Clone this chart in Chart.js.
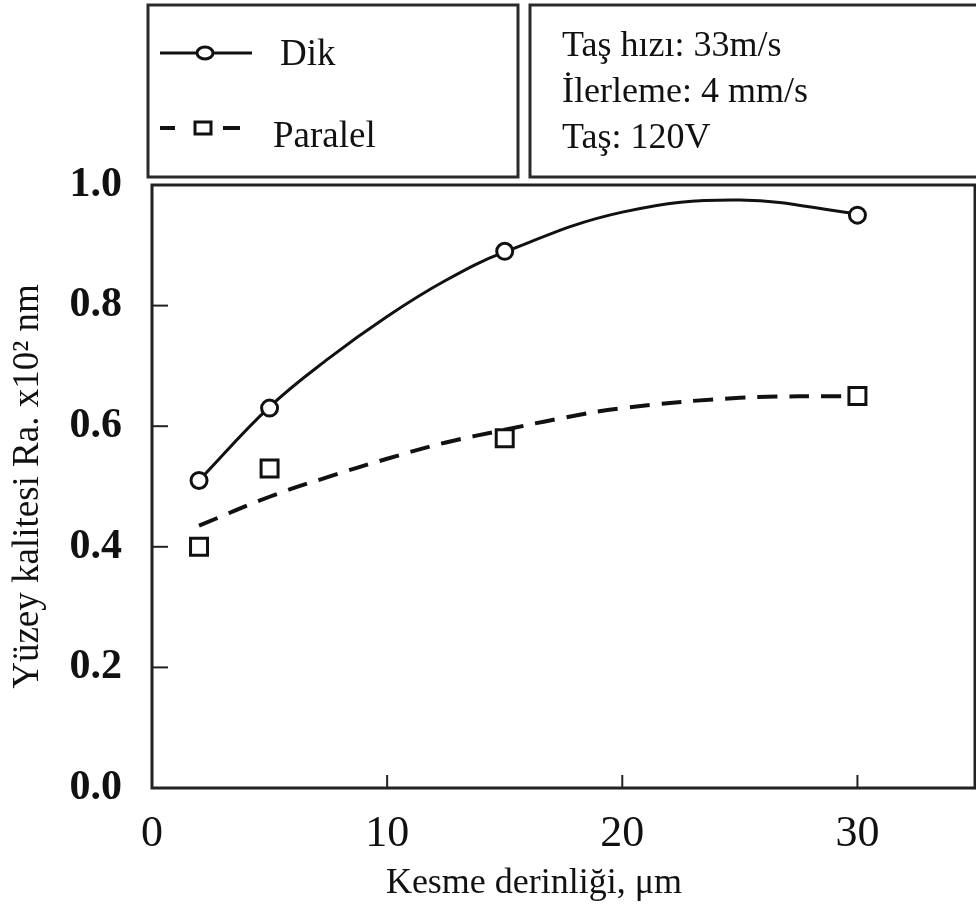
<!DOCTYPE html>
<html>
<head>
<meta charset="utf-8">
<script src="https://cdn.jsdelivr.net/npm/chart.js@4"></script>
<style>
  body { margin: 0; background: #fff; }
  canvas { display: block; }
</style>
</head>
<body>
<canvas id="chart1" width="976" height="906"></canvas>
<script>
const ctx = document.getElementById('chart1');

// measured points
const depth = [2, 5, 15, 30];
const dikValues = [0.51, 0.63, 0.89, 0.95];
const paralelValues = [0.40, 0.53, 0.58, 0.65];

// fitted curves
const dikCurveX = [2, 5, 7.5, 10, 12.5, 15, 20, 25, 30];
const dikCurveY = [0.51, 0.632, 0.712, 0.782, 0.842, 0.889, 0.955, 0.975, 0.952];
const paralelCurveX = [2, 5, 7.5, 10, 12.5, 15, 17.5, 20, 25, 30];
const paralelCurveY = [0.435, 0.483, 0.516, 0.546, 0.573, 0.594, 0.614, 0.630, 0.647, 0.650];

const seriesNames = ['Dik', 'Paralel'];
const infoLines = ['Taş hızı: 33m/s', 'İlerleme: 4 mm/s', 'Taş: 120V'];
const xTitle = 'Kesme derinliği, μm';
const yTitle = 'Yüzey kalitesi Ra. x10² nm';

const serif = "'Liberation Serif', 'DejaVu Serif', serif";
const ink = '#111';

const toPoints = (xs, ys) => xs.map((x, i) => ({x: x, y: ys[i]}));

const curveDataset = (data, dash) => ({
  data: data,
  showLine: true,
  borderColor: ink,
  borderWidth: dash ? 4 : 3,
  borderDash: dash ? [20, 12] : [],
  pointRadius: 0,
  tension: 0.4,
  order: 2
})

const markerDataset = (label, data, style) => ({
  label: label,
  data: data,
  showLine: false,
  pointStyle: style,
  pointRadius: style == 'rect' ? 12 : 8,
  pointBorderWidth: 3,
  pointBorderColor: ink,
  pointBackgroundColor: '#fff',
  order: 1
})

// boxes above the chart, inner tick marks and the frame
const decorations = {
  id: 'decorations',
  afterDraw(chart) {
    const c = chart.ctx;
    const a = chart.chartArea;
    const xs = chart.scales.x;
    const ys = chart.scales.y;
    c.save();

    // frame
    c.strokeStyle = '#222';
    c.lineWidth = 3;
    c.strokeRect(a.left, a.top, a.right - a.left, a.bottom - a.top);

    // inward ticks
    c.lineWidth = 2;
    xs.ticks.forEach(t => {
      if (t.value <= xs.min) return;
      const px = xs.getPixelForValue(t.value);
      c.beginPath(); c.moveTo(px, a.bottom); c.lineTo(px, a.bottom - 13); c.stroke();
    });
    ys.ticks.forEach(t => {
      if (t.value <= ys.min || t.value >= ys.max) return;
      const py = ys.getPixelForValue(t.value);
      c.beginPath(); c.moveTo(a.left, py); c.lineTo(a.left + 16, py); c.stroke();
    });

    // legend box
    c.lineWidth = 3;
    c.strokeStyle = '#2a2a2a';
    c.strokeRect(148, 5, 370, 172);
    c.strokeRect(530, 5, 460, 172);

    c.fillStyle = ink;
    c.font = '37px ' + serif;
    c.textBaseline = 'alphabetic';
    c.textAlign = 'left';
    c.fillText(seriesNames[0], 280, 65);
    c.fillText(seriesNames[1], 273, 147);

    c.strokeStyle = ink;
    c.lineWidth = 3;
    c.beginPath(); c.moveTo(160, 53); c.lineTo(252, 53); c.stroke();
    c.beginPath(); c.ellipse(205, 53, 8, 6, 0, 0, Math.PI * 2);
    c.fillStyle = '#fff'; c.fill(); c.stroke();

    c.lineWidth = 4;
    c.beginPath(); c.moveTo(160, 128); c.lineTo(175, 128); c.stroke();
    c.beginPath(); c.moveTo(223, 128); c.lineTo(240, 128); c.stroke();
    c.lineWidth = 3;
    c.fillStyle = '#fff';
    c.fillRect(195, 122, 16, 12);
    c.strokeRect(195, 122, 16, 12);

    // info box
    c.fillStyle = ink;
    c.font = '36px ' + serif;
    infoLines.forEach((line, i) => c.fillText(line, 562, 56 + i * 46));

    // x title
    c.textAlign = 'center';
    c.textBaseline = 'middle';
    c.fillText(xTitle, 534, 884);

    c.restore();
  }
}

const config = {
  type: 'scatter',
  data: {
    datasets: [
      curveDataset(toPoints(dikCurveX, dikCurveY), false),
      curveDataset(toPoints(paralelCurveX, paralelCurveY), true),
      markerDataset(seriesNames[0], toPoints(depth, dikValues), 'circle'),
      markerDataset(seriesNames[1], toPoints(depth, paralelValues), 'rect')
    ]
  },
  options: {
    responsive: false,
    animation: false,
    layout: { autoPadding: false, padding: { top: 185, right: 1, left: 0, bottom: 0 } },
    plugins: {
      legend: { display: false },
      tooltip: { enabled: false }
    },
    scales: {
      x: {
        type: 'linear',
        min: 0,
        max: 35,
        grid: { display: false },
        border: { display: false },
        ticks: {
          stepSize: 10,
          includeBounds: false,
          padding: 12,
          color: ink,
          font: { family: serif, size: 44 }
        },
        afterFit: (s) => { s.height = 118; s.paddingLeft = 0; s.paddingRight = 0; }
      },
      y: {
        min: 0,
        max: 1.0,
        grid: { display: false },
        border: { display: false },
        ticks: {
          stepSize: 0.2,
          padding: 22,
          color: ink,
          font: { family: serif, size: 42, weight: 'bold' },
          callback: (v) => v.toFixed(1)
        },
        title: {
          display: true,
          text: yTitle,
          color: ink,
          font: { family: serif, size: 37 },
          padding: { top: 6, bottom: 0 }
        },
        afterFit: (s) => { s.width = 152; s.paddingTop = 0; s.paddingBottom = 0; }
      }
    }
  },
  plugins: [decorations]
}

const curChart = new Chart(ctx, config);
</script>
</body>
</html>
